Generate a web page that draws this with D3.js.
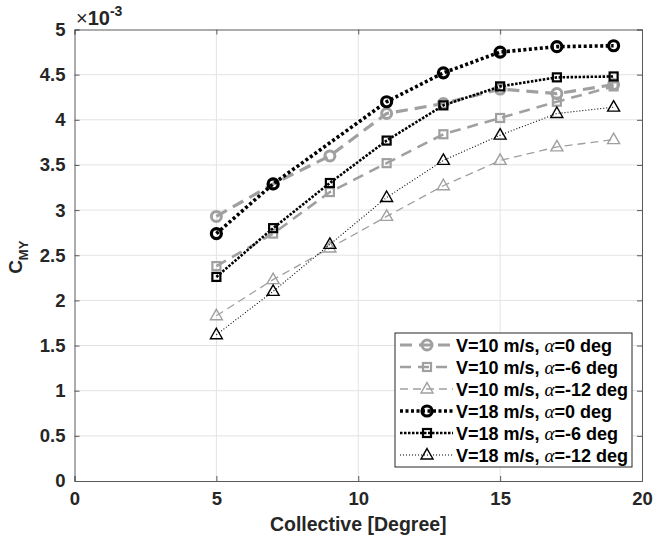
<!DOCTYPE html>
<html><head><meta charset="utf-8">
<script src="https://cdn.jsdelivr.net/npm/d3@7/dist/d3.min.js"></script>
<style>
html,body{margin:0;padding:0;background:#fff;}
svg text{font-family:"Liberation Sans",Arial,sans-serif;}
</style></head>
<body>
<svg id="chart" width="658" height="539"></svg>
<script>
// Data (values in units of 1e-3)
const collective = [5, 7, 9, 11, 13, 15, 17, 19];
const v10a0  = [2.93, 3.29, 3.60, 4.07, 4.18, 4.34, 4.29, 4.39];
const v10a6  = [2.38, 2.74, 3.20, 3.52, 3.84, 4.02, 4.20, 4.37];
const v10a12 = [1.83, 2.23, 2.58, 2.93, 3.27, 3.55, 3.70, 3.78];
const v18a0  = [2.74, 3.29, null, 4.20, 4.52, 4.75, 4.81, 4.82];
const v18a6  = [2.26, 2.80, 3.30, 3.77, 4.16, 4.37, 4.47, 4.48];
const v18a12 = [1.62, 2.10, 2.62, 3.14, 3.55, 3.83, 4.07, 4.14];
const xTicks = [0, 5, 10, 15, 20];
const yTicks = [0, 0.5, 1, 1.5, 2, 2.5, 3, 3.5, 4, 4.5, 5];
const legendLabels = [
  ["V=10 m/s, ", "=0 deg"],
  ["V=10 m/s, ", "=-6 deg"],
  ["V=10 m/s, ", "=-12 deg"],
  ["V=18 m/s, ", "=0 deg"],
  ["V=18 m/s, ", "=-6 deg"],
  ["V=18 m/s, ", "=-12 deg"]
];

const gray = "#a0a0a0";
const seriesDefs = [
  {vals: v10a0,  color: gray,   width: 3.2, dash: "12,7",  marker: "circle",   msize: 5,  mw: 3},
  {vals: v10a6,  color: gray,   width: 2.6, dash: "11,7",  marker: "square",   msize: 8,  mw: 2.2},
  {vals: v10a12, color: gray,   width: 1.3, dash: "8,5",   marker: "triangle", msize: 12, mw: 1.4},
  {vals: v18a0,  color: "#000", width: 3.6, dash: "3,2.5", marker: "circle",   msize: 5,  mw: 3.2},
  {vals: v18a6,  color: "#000", width: 2.6, dash: "2.5,1.5", marker: "square", msize: 8,  mw: 2.2},
  {vals: v18a12, color: "#000", width: 1.1, dash: "1,2",   marker: "triangle", msize: 12, mw: 1.4}
];

const svg = d3.select("#chart");
const L = 74.5, R = 642, T = 29.5, B = 481;
const x = d3.scaleLinear().domain([0, 20]).range([L, R]);
const y = d3.scaleLinear().domain([0, 5]).range([B, T]);

// grid
const g = svg.append("g");
g.selectAll(".gx").data(xTicks.slice(1, -1)).enter().append("line")
  .attr("x1", d => x(d)).attr("x2", d => x(d)).attr("y1", T).attr("y2", B)
  .attr("stroke", "#e3e3e3").attr("stroke-width", 1);
g.selectAll(".gy").data(yTicks.slice(1, -1)).enter().append("line")
  .attr("x1", L).attr("x2", R).attr("y1", d => y(d)).attr("y2", d => y(d))
  .attr("stroke", "#e3e3e3").attr("stroke-width", 1);

// axes with d3 axis
const fmt = d => String(d);
const axB = svg.append("g").attr("transform", `translate(0,${B})`)
  .call(d3.axisBottom(x).tickValues(xTicks).tickSize(-5).tickPadding(11).tickFormat(fmt));
const axT = svg.append("g").attr("transform", `translate(0,${T})`)
  .call(d3.axisTop(x).tickValues(xTicks).tickSize(-5).tickFormat(""));
const axL = svg.append("g").attr("transform", `translate(${L},0)`)
  .call(d3.axisLeft(y).tickValues(yTicks).tickSize(-5).tickPadding(9).tickFormat(fmt));
const axR = svg.append("g").attr("transform", `translate(${R},0)`)
  .call(d3.axisRight(y).tickValues(yTicks).tickSize(-5).tickFormat(""));
[axB, axT, axL, axR].forEach(a => {
  a.select(".domain").attr("stroke", "#5a5a5a").attr("stroke-width", 1);
  a.selectAll(".tick line").attr("stroke", "#5a5a5a");
  a.selectAll("text").attr("fill", "#262626").attr("font-size", 18.5).attr("font-weight", "bold")
    .attr("font-family", "'Liberation Sans', Arial, sans-serif");
});
axB.selectAll("text").attr("dy", "0.71em");

// exponent label
const ex = svg.append("text").attr("x", 76).attr("y", 25).attr("fill", "#262626")
  .attr("font-size", 20);
ex.append("tspan").text("\u00d7");
ex.append("tspan").attr("font-weight", "bold").text("10");
ex.append("tspan").attr("font-weight", "bold").attr("font-size", 14).attr("dy", -9).text("-3");

// axis labels
svg.append("text").attr("x", (L + R) / 2).attr("y", 531).attr("text-anchor", "middle")
  .attr("font-size", 19.5).attr("font-weight", "bold").attr("fill", "#262626")
  .text("Collective [Degree]");
const ylg = svg.append("g").attr("transform", `translate(22,${(T + B) / 2 + 2}) rotate(-90)`);
const yl = ylg.append("text").attr("x", 0).attr("y", 0)
  .attr("text-anchor", "middle").attr("font-size", 19).attr("font-weight", "bold").attr("fill", "#262626");
yl.append("tspan").text("C");
yl.append("tspan").attr("font-size", 13).attr("dy", 6).text("MY");

const line = d3.line().x(d => x(d[0])).y(d => y(d[1]));

function drawMarker(sel, type, cx, cy, s, color, mw) {
  if (type === "circle") {
    sel.append("circle").attr("cx", cx).attr("cy", cy).attr("r", s)
      .attr("fill", "none").attr("stroke", color).attr("stroke-width", mw);
  } else if (type === "square") {
    sel.append("rect").attr("x", cx - s / 2).attr("y", cy - s / 2).attr("width", s).attr("height", s)
      .attr("fill", "none").attr("stroke", color).attr("stroke-width", mw);
  } else {
    const h = s * 0.87;
    sel.append("path").attr("d", `M${cx},${cy - h * 0.62} L${cx + s / 2},${cy + h * 0.38} L${cx - s / 2},${cy + h * 0.38} Z`)
      .attr("fill", "none").attr("stroke", color).attr("stroke-width", mw).attr("stroke-linejoin", "miter");
  }
}

const plot = svg.append("g");
seriesDefs.forEach(sd => {
  const pts = collective.map((c, i) => [c, sd.vals[i]]).filter(p => p[1] !== null);
  plot.append("path").datum(pts).attr("d", line).attr("fill", "none")
    .attr("stroke", sd.color).attr("stroke-width", sd.width).attr("stroke-dasharray", sd.dash);
  const mg = plot.append("g");
  pts.forEach(p => drawMarker(mg, sd.marker, x(p[0]), y(p[1]), sd.msize, sd.color, sd.mw));
});

// legend
const lgX = 395, lgY = 333, lgW = 237, lgH = 134;
const lg = svg.append("g");
lg.append("rect").attr("x", lgX).attr("y", lgY).attr("width", lgW).attr("height", lgH)
  .attr("fill", "#fff").attr("stroke", "#262626").attr("stroke-width", 1);
seriesDefs.forEach((sd, i) => {
  const cy = lgY + 12 + i * 22;
  lg.append("line").attr("x1", lgX + 5).attr("x2", lgX + 58).attr("y1", cy).attr("y2", cy)
    .attr("stroke", sd.color).attr("stroke-width", sd.width).attr("stroke-dasharray", sd.dash);
  drawMarker(lg, sd.marker, lgX + 32, cy, sd.msize, sd.color, sd.mw);
  const t = lg.append("text").attr("x", lgX + 61).attr("y", cy + 6.5).attr("font-size", 18)
    .attr("font-weight", "bold").attr("fill", "#000");
  t.append("tspan").text(legendLabels[i][0]);
  t.append("tspan").attr("font-family", "'Liberation Serif', 'Times New Roman', serif")
    .attr("font-style", "italic").attr("font-weight", "normal").attr("font-size", 19).text("\u03b1");
  t.append("tspan").text(legendLabels[i][1]);
});
</script>
</body></html>
